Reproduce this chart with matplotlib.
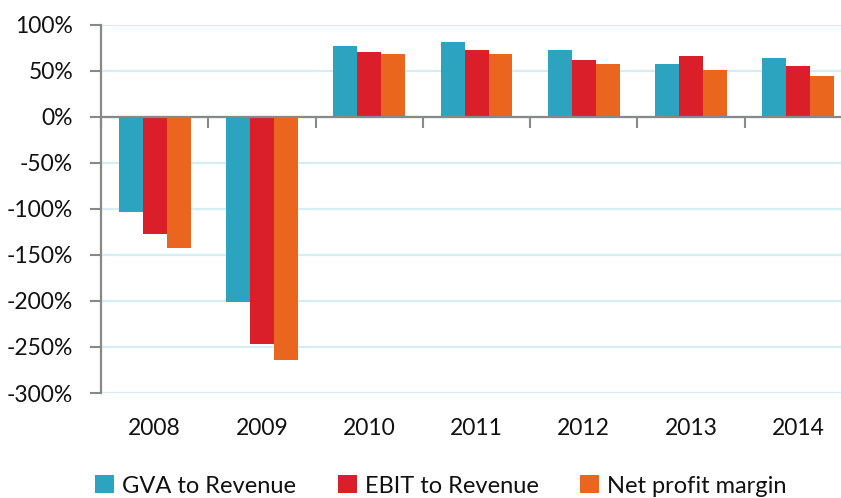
import matplotlib
matplotlib.use("Agg")
import matplotlib.pyplot as plt
from matplotlib.patches import Patch
from matplotlib.ticker import FuncFormatter, MultipleLocator
import matplotlib.transforms as mtransforms
import numpy as np

plt.rcParams['font.family'] = ['Lato', 'DejaVu Sans']

years = ['2008', '2009', '2010', '2011', '2012', '2013', '2014']
gva_to_revenue = [-103, -201, 77, 81, 72.5, 57, 64]
ebit_to_revenue = [-127.5, -247, 70.5, 72.5, 61.5, 66, 55]
net_profit_margin = [-143, -264, 68.5, 68, 57, 50.5, 44]

series_names = ['GVA to Revenue', 'EBIT to Revenue', 'Net profit margin']
colors = ['#2CA3BF', '#DA1F2A', '#EA661E']

fig = plt.figure(figsize=(8.41, 4.98), dpi=100)
ax = fig.add_axes([0.1201, 0.2108, 0.893, 0.7396])

x = np.arange(len(years))
w = 0.2236
for i, (vals, c) in enumerate(zip([gva_to_revenue, ebit_to_revenue, net_profit_margin], colors)):
    ax.bar(x + (i - 1) * w, vals, width=w, color=c, zorder=3, linewidth=0)

ax.set_xlim(-0.5, len(years) - 0.5)
ax.set_ylim(-300, 100)

# y axis
ax.yaxis.set_major_locator(MultipleLocator(50))
ax.yaxis.set_major_formatter(FuncFormatter(lambda v, p: f"{int(v)}%"))
ax.tick_params(axis='y', direction='out', length=8, width=1.5, color='#888888',
               labelsize=16.5, pad=12, labelcolor='#111111')
ax.grid(axis='y', color='#D5EEF6', linewidth=1.6, zorder=0)

# x axis at zero with ticks between categories
ax.spines['bottom'].set_position(('data', 0))
ax.spines['bottom'].set_color('#888888')
ax.spines['bottom'].set_linewidth(1.6)
ax.spines['bottom'].set_zorder(4)
ax.spines['left'].set_color('#888888')
ax.spines['left'].set_linewidth(1.6)
ax.spines['top'].set_visible(False)
ax.spines['right'].set_visible(False)
ax.set_xticks(np.arange(-0.5, len(years), 1.0))
ax.set_xticklabels([])
ax.tick_params(axis='x', direction='out', length=8, width=1.5, color='#888888')

trans = mtransforms.blended_transform_factory(ax.transData, ax.transAxes)
for xi, yr in zip(x, years):
    ax.text(xi, -0.095, yr, transform=trans, ha='center', va='center',
            fontsize=16.5, color='#111111')

handles = [Patch(facecolor=c, edgecolor='none') for c in colors]
fig.legend(handles, series_names, loc='center', bbox_to_anchor=(0.5244, 0.024),
           ncol=3, frameon=False, fontsize=17, handlelength=0.8, handleheight=0.8,
           handletextpad=0.35, columnspacing=1.75, labelcolor='#111111')

fig.savefig('out.png', dpi=100)
